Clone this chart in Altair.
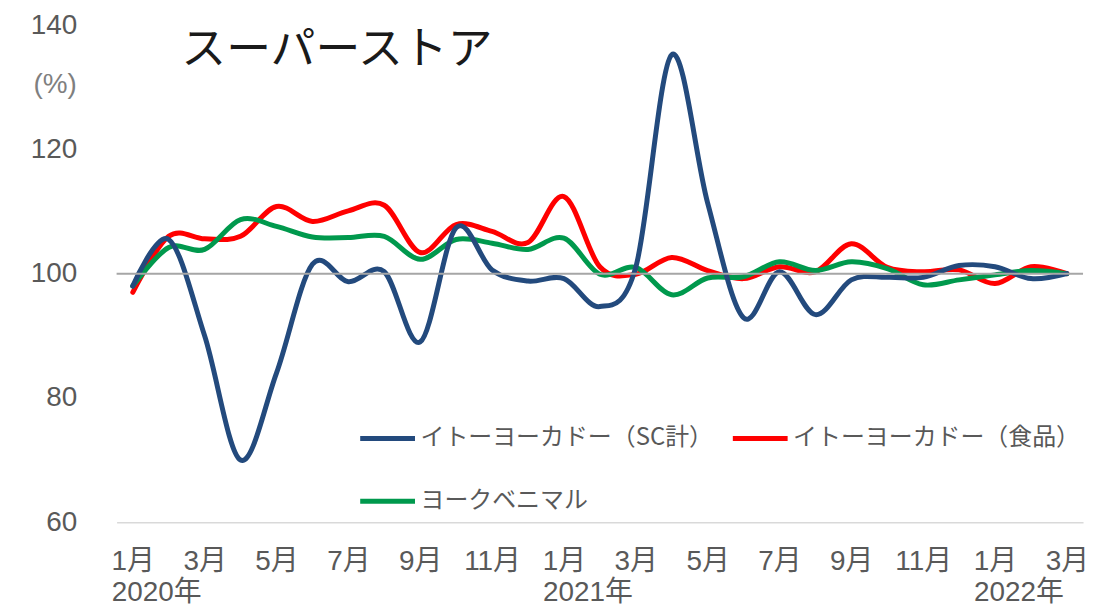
import altair as alt
import pandas as pd

# ---- data ----
month_labels = ["1月", "2月", "3月", "4月", "5月", "6月", "7月", "8月", "9月", "10月", "11月", "12月",
                "1月", "2月", "3月", "4月", "5月", "6月", "7月", "8月", "9月", "10月", "11月", "12月",
                "1月", "2月", "3月"]
year_labels = ["2020年", "2021年", "2022年"]
year_pos = [0, 12, 24]

series_names = ["イトーヨーカドー（SC計）", "イトーヨーカドー（食品）", "ヨークベニマル"]
sc_total = [98, 105.5, 90, 70, 84, 101.5, 98.7, 100.3, 89, 107.4, 100.6, 98.8,
            99.2, 94.7, 101, 135.2, 111.4, 92.9, 100.3, 93.4, 99, 99.4, 99.4, 101.3,
            101.1, 99.2, 100]
food = [97, 106, 105.6, 106, 110.8, 108.4, 110.1, 111, 103.4, 107.9, 106.8, 105,
        112.4, 101.1, 99.9, 102.6, 100.5, 99.2, 101.1, 100.3, 104.8, 101, 100.3, 100.6,
        98.4, 101.1, 100]
york = [98, 104.2, 103.9, 108.7, 107.6, 105.9, 105.8, 106, 102.3, 105.5, 104.9, 103.9,
        105.7, 99.9, 101, 96.6, 99.3, 99.5, 101.9, 100.5, 101.9, 100.8, 98.2, 99,
        99.8, 100.5, 100]
colors = ["#234a7d", "#ff0000", "#00994d"]

rows = []
for name, vals in zip(series_names, [sc_total, food, york]):
    for i, v in enumerate(vals):
        rows.append({"i": i, "v": v, "s": name})
df = pd.DataFrame(rows)
years_df = pd.DataFrame({"i": year_pos, "t": year_labels})

W, H = 970, 499
FONT = "Liberation Sans, Noto Sans CJK JP"
JFONT = "Noto Sans CJK JP"

label_expr = "[" + ",".join("'%s'" % m for m in month_labels) + "][datum.value]"

xscale = alt.Scale(domain=[-0.45, 26.45], nice=False, zero=False)
yscale = alt.Scale(domain=[60, 140], nice=False, zero=False)
cscale = alt.Scale(domain=series_names, range=colors)

base = alt.Chart(df)

def series_layer(name):
    return base.transform_filter(alt.datum.s == name).mark_line(
        strokeWidth=5, interpolate="cardinal", strokeCap="round"
    ).encode(
        x=alt.X("i:Q", scale=xscale, axis=alt.Axis(
            values=list(range(0, 27, 2)), labelExpr=label_expr, title=None,
            grid=False, ticks=False, tickSize=0, domainColor="#d9d9d9", domainWidth=1.5,
            labelFont=FONT, labelFontSize=28, labelColor="#595959", labelPadding=25,
            labelFlush=False, labelOverlap=False)),
        y=alt.Y("v:Q", scale=yscale, axis=alt.Axis(
            values=[60, 80, 100, 120, 140], title=None, grid=False, ticks=False, tickSize=0,
            domain=False, labelFont=FONT, labelFontSize=28, labelColor="#595959",
            labelPadding=40)),
        color=alt.Color("s:N", scale=cscale, sort=series_names, legend=alt.Legend(
            title=None, orient="none", legendX=242, legendY=385, direction="horizontal",
            columns=2, symbolType="stroke", symbolSize=3025, symbolStrokeWidth=5,
            labelFont=JFONT, labelFontSize=24, labelColor="#595959", labelOffset=3,
            columnPadding=9, rowPadding=21, padding=0, labelLimit=400)),
    )

line_red = series_layer(series_names[1])
line_green = series_layer(series_names[2])
line_blue = series_layer(series_names[0])

ref = alt.Chart(pd.DataFrame({"v": [100]})).mark_rule(color="#a6a6a6", strokeWidth=2).encode(
    y=alt.Y("v:Q", scale=yscale)
)

title = alt.Chart(pd.DataFrame({"t": ["スーパーストア"]})).mark_text(
    font=JFONT, fontSize=45, color="#1a1a1a", align="left", baseline="middle"
).encode(text="t:N", x=alt.value(65), y=alt.value(25))

unit = alt.Chart(pd.DataFrame({"t": ["(%)"]})).mark_text(
    font=FONT, fontSize=28, color="#7f7f7f", align="right", baseline="middle"
).encode(text="t:N", x=alt.value(-40), y=alt.value(60))

years = alt.Chart(years_df).mark_text(
    font=FONT, fontSize=28, color="#595959", align="left", baseline="middle", dx=-21
).encode(x=alt.X("i:Q", scale=xscale), y=alt.value(570), text="t:N")

chart = alt.layer(line_red, line_green, line_blue, ref, title, unit, years).properties(
    width=W, height=H,
    background="white",
    autosize=alt.AutoSizeParams(type="none"),
    padding={"left": 109, "top": 16, "right": 10, "bottom": 88},
).configure_view(strokeWidth=0, stroke=None)

chart.save("out.html", embed_options={"renderer": "svg", "actions": False})
